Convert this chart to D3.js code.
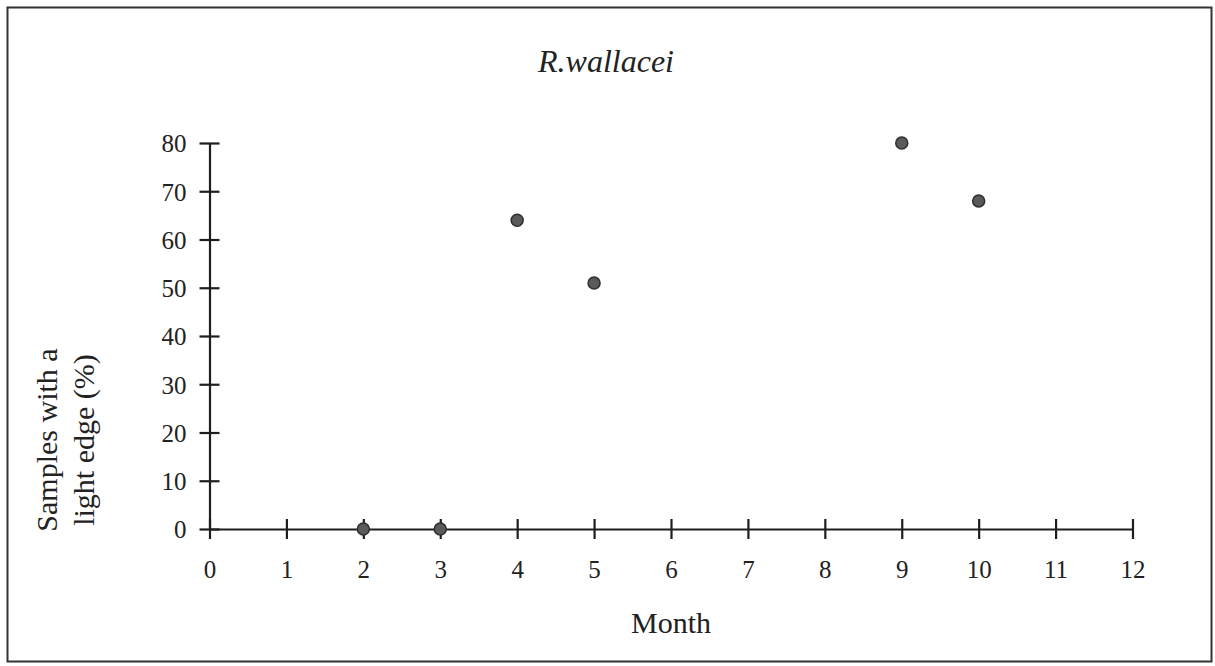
<!DOCTYPE html>
<html>
<head>
<meta charset="utf-8">
<script src="https://cdn.jsdelivr.net/npm/d3@7"></script>
<style>
  html, body { margin: 0; padding: 0; background: #fff; }
  svg { display: block; }
  text { font-family: "Liberation Serif", "Times New Roman", serif; fill: #222; }
</style>
</head>
<body>
<svg id="chart" width="1215" height="666"></svg>
<script>
// Monthly share of R. wallacei samples with a light edge
const months = [2, 3, 4, 5, 9, 10];
const lightEdgePct = [0, 0, 64, 51, 80, 68];
const xTickValues = [0, 1, 2, 3, 4, 5, 6, 7, 8, 9, 10, 11, 12];
const yTickValues = [0, 10, 20, 30, 40, 50, 60, 70, 80];
const titleText = "R.wallacei";
const xAxisTitle = "Month";
const yAxisTitleLines = ["Samples with a", "light edge (%)"];

const W = 1215, H = 666;
const plot = { left: 209.5, right: 1132.5, top: 143, bottom: 529 };

const svg = d3.select("#chart");

// outer frame
svg.append("rect")
  .attr("x", 7.5).attr("y", 7.5)
  .attr("width", 1204).attr("height", 654)
  .attr("fill", "none").attr("stroke", "#333").attr("stroke-width", 2);

const x = d3.scaleLinear().domain([0, 12]).range([plot.left, plot.right]);
const y = d3.scaleLinear().domain([0, 80]).range([plot.bottom, plot.top]);

// x axis: line along y = 0 with ticks crossing it
const xAxis = svg.append("g")
  .attr("transform", `translate(0,${y(0)})`)
  .call(d3.axisBottom(x).tickValues(xTickValues).tickSize(0).tickSizeOuter(0).tickFormat(d3.format("d")));
xAxis.select(".domain").attr("stroke", "#1e1e1e").attr("stroke-width", 2.2);
xAxis.selectAll(".tick line").remove();
xAxis.selectAll(".tick").append("line")
  .attr("y1", -10).attr("y2", 10)
  .attr("stroke", "#1e1e1e").attr("stroke-width", 2.2);
xAxis.selectAll(".tick text")
  .attr("y", 49).attr("dy", 0)
  .style("font-size", "25px").style("font-family", "Liberation Serif, serif").attr("fill", "#222");

// y axis with ticks crossing it
const yAxis = svg.append("g")
  .attr("transform", `translate(${x(0)},0)`)
  .call(d3.axisLeft(y).tickValues(yTickValues).tickSize(0).tickSizeOuter(0).tickFormat(d3.format("d")));
yAxis.select(".domain").attr("stroke", "#1e1e1e").attr("stroke-width", 2.2);
yAxis.selectAll(".tick line").remove();
yAxis.selectAll(".tick").append("line")
  .attr("x1", -10).attr("x2", 10)
  .attr("stroke", "#1e1e1e").attr("stroke-width", 2.2);
yAxis.selectAll(".tick text")
  .attr("x", -23).attr("dy", "0.35em")
  .style("font-size", "25px").style("font-family", "Liberation Serif, serif").attr("fill", "#222");

// data points
svg.append("g").selectAll("circle")
  .data(months.map((m, i) => ({ m, v: lightEdgePct[i] })))
  .join("circle")
  .attr("cx", d => x(d.m))
  .attr("cy", d => y(d.v))
  .attr("r", 6)
  .attr("fill", "#5a5a5a")
  .attr("stroke", "#2e2e2e")
  .attr("stroke-width", 1.5);

// title
svg.append("text")
  .attr("x", 606).attr("y", 72)
  .attr("text-anchor", "middle")
  .style("font-size", "32px").style("font-style", "italic")
  .text(titleText);

// x axis title
svg.append("text")
  .attr("x", (plot.left + plot.right) / 2).attr("y", 633)
  .attr("text-anchor", "middle")
  .style("font-size", "30px")
  .text(xAxisTitle);

// y axis title, two lines rotated
const yTitle = svg.append("text")
  .attr("transform", "translate(57,440) rotate(-90)")
  .attr("text-anchor", "middle")
  .style("font-size", "30px");
yTitle.selectAll("tspan")
  .data(yAxisTitleLines)
  .join("tspan")
  .attr("x", 0)
  .attr("y", (d, i) => i * 37)
  .text(d => d);
</script>
</body>
</html>
